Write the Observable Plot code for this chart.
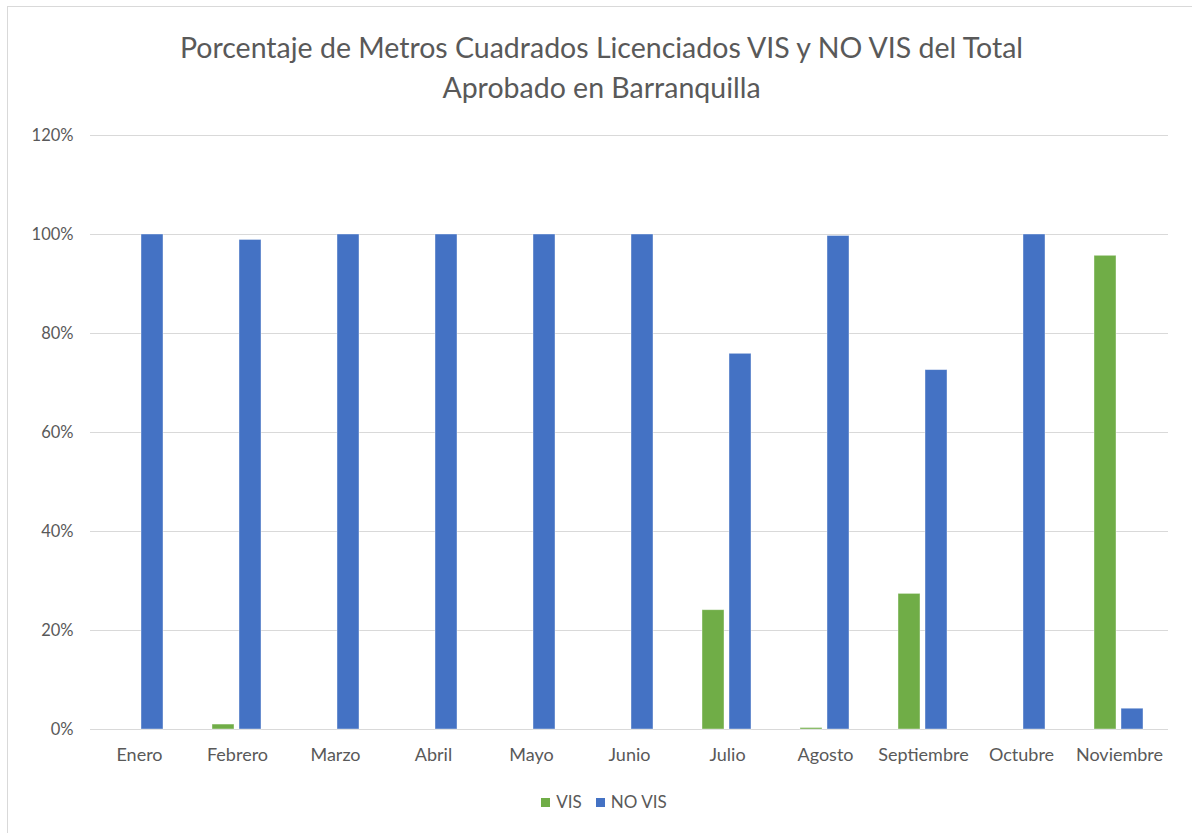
<!DOCTYPE html>
<html>
<head>
<meta charset="utf-8">
<script src="https://cdn.jsdelivr.net/npm/d3@7"></script>
<script src="https://cdn.jsdelivr.net/npm/@observablehq/plot@0.6"></script>
<style>
  html, body { margin: 0; padding: 0; background: #fff; }
  body { width: 1192px; height: 833px; position: relative; overflow: hidden; font-family: Lato, "Open Sans", sans-serif; color: #595959; }
  #frame { position: absolute; left: 7px; top: 6px; width: 1200px; height: 840px; border-left: 1.5px solid #d9d9d9; border-top: 1.5px solid #d9d9d9; box-sizing: border-box; }
  #title { position: absolute; left: 0; top: 27px; width: 1203px; text-align: center; font-size: 28.5px; line-height: 40px; color: #595959; }
  #chart { position: absolute; left: 0; top: 110px; }
  #legend { position: absolute; left: 0; top: 791px; width: 1208px; text-align: center; font-size: 17px; color: #595959; }
  #legend span.item { display: inline-block; margin: 0 7px; }
  #legend span.sw { display: inline-block; width: 9px; height: 9px; margin-right: 6px; vertical-align: 1px; }
</style>
</head>
<body>
<div id="frame"></div>
<div id="title">Porcentaje de Metros Cuadrados Licenciados VIS y NO VIS del Total<br>Aprobado en Barranquilla</div>
<div id="chart"></div>
<div id="legend"></div>
<script>
const months = ["Enero", "Febrero", "Marzo", "Abril", "Mayo", "Junio", "Julio", "Agosto", "Septiembre", "Octubre", "Noviembre"];
const seriesNames = ["VIS", "NO VIS"];
const seriesColors = ["#70AD47", "#4472C4"];
const visValues = [0, 1.0, 0, 0, 0, 0, 24.1, 0.3, 27.4, 0, 95.7];
const noVisValues = [100, 98.9, 100, 100, 100, 100, 75.9, 99.7, 72.6, 100, 4.2];
const yTicks = [0, 20, 40, 60, 80, 100, 120];

const data = [];
months.forEach((m, i) => {
  data.push({month: m, series: "VIS", value: visValues[i]});
  data.push({month: m, series: "NO VIS", value: noVisValues[i]});
});

const plot = Plot.plot({
  width: 1192,
  height: 670,
  marginLeft: 87,
  marginRight: 21,
  marginTop: 25,
  marginBottom: 51,
  style: {fontFamily: "Lato, 'Open Sans', sans-serif", fontSize: "16px", color: "#595959", background: "transparent"},
  fx: {domain: months, padding: 0, label: null, axis: null},
  x: {domain: seriesNames, paddingInner: 0.18, paddingOuter: 0.85, axis: null},
  y: {domain: [0, 120], axis: null},
  color: {domain: seriesNames, range: seriesColors},
  marks: [
    Plot.ruleY(yTicks, {stroke: "#d9d9d9", strokeWidth: 1}),
    Plot.axisY({ticks: yTicks, tickSize: 0, tickPadding: 17, tickFormat: d => d + "%", fill: "#595959", fontSize: 16.5, label: null}),
    Plot.barY(data, {fx: "month", x: "series", y: "value", fill: "series", stroke: "#ffffff", strokeOpacity: 0.5, strokeWidth: 0.8}),
    Plot.axisFx({domain: months, anchor: "bottom", tickSize: 0, tickPadding: 19, fill: "#595959", fontSize: 18, label: null})
  ]
});
document.getElementById("chart").appendChild(plot);

const legend = document.getElementById("legend");
seriesNames.forEach((s, i) => {
  const item = document.createElement("span");
  item.className = "item";
  const sw = document.createElement("span");
  sw.className = "sw";
  sw.style.background = seriesColors[i];
  item.appendChild(sw);
  item.appendChild(document.createTextNode(s));
  legend.appendChild(item);
});
</script>
</body>
</html>
